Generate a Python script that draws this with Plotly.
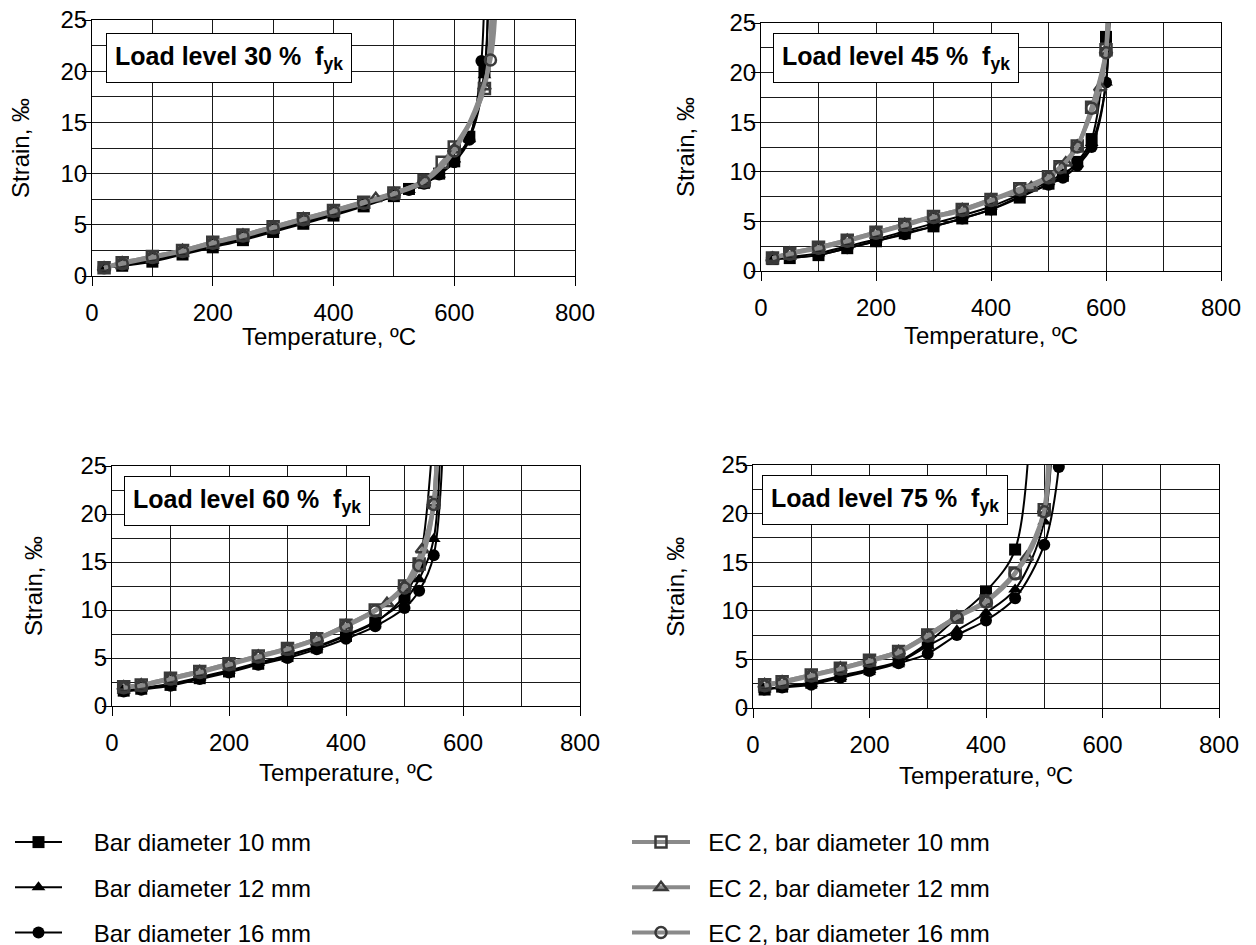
import plotly.graph_objects as go

# ---------------- data ----------------
# Load level 30 %
T30_d10 = [20, 50, 100, 150, 200, 250, 300, 350, 400, 450, 500, 525, 550, 575, 600, 625, 650, 656]
S30_d10 = [0.8, 1.0, 1.4, 2.1, 2.8, 3.5, 4.3, 5.1, 5.9, 6.8, 7.8, 8.5, 9.1, 10.0, 11.2, 13.6, 20.0, 40.0]
T30_d12 = [20, 50, 100, 150, 200, 250, 300, 350, 400, 450, 500, 525, 550, 575, 600, 625, 650, 656]
S30_d12 = [0.8, 1.0, 1.5, 2.2, 2.9, 3.6, 4.4, 5.2, 6.0, 6.9, 7.9, 8.4, 9.1, 9.9, 11.4, 13.4, 19.6, 40.0]
T30_d16 = [20, 50, 100, 150, 200, 250, 300, 350, 400, 450, 500, 525, 550, 575, 600, 625, 645, 652]
S30_d16 = [0.8, 1.1, 1.6, 2.3, 3.0, 3.7, 4.5, 5.3, 6.1, 7.0, 8.0, 8.4, 9.0, 9.9, 11.1, 13.3, 21.0, 40.0]
T30_ec10 = [20, 50, 100, 150, 200, 250, 300, 350, 400, 450, 500, 550, 580, 600, 650, 662]
S30_ec10 = [0.8, 1.3, 1.9, 2.5, 3.3, 4.0, 4.8, 5.6, 6.4, 7.2, 8.1, 9.3, 11.1, 12.6, 18.3, 40.0]
T30_ec12 = [20, 50, 100, 150, 200, 250, 300, 350, 400, 470, 500, 550, 600, 650, 662]
S30_ec12 = [0.8, 1.3, 1.9, 2.5, 3.3, 4.0, 4.8, 5.6, 6.4, 7.6, 8.1, 9.3, 12.4, 18.5, 40.0]
T30_ec16 = [20, 50, 100, 150, 200, 250, 300, 350, 400, 450, 500, 550, 600, 660, 666]
S30_ec16 = [0.8, 1.2, 1.8, 2.4, 3.2, 3.9, 4.7, 5.5, 6.3, 7.1, 8.0, 9.2, 12.2, 21.1, 40.0]

# Load level 45 %
T45_exp = [20, 50, 100, 150, 200, 250, 300, 350, 400, 450, 500, 525, 550, 575, 600, 607]
S45_d10 = [1.2, 1.3, 1.6, 2.3, 3.0, 3.8, 4.5, 5.3, 6.2, 7.4, 8.8, 9.6, 11.0, 13.3, 23.6, 40.0]
S45_d12 = [1.2, 1.4, 1.8, 2.5, 3.2, 4.0, 4.8, 5.6, 6.5, 7.7, 9.0, 9.8, 10.8, 12.9, 19.0, 40.0]
S45_d16 = [1.2, 1.3, 1.6, 2.3, 3.0, 3.7, 4.5, 5.3, 6.2, 7.5, 8.7, 9.4, 10.6, 12.5, 19.0, 40.0]
T45_ec = [20, 50, 100, 150, 200, 250, 300, 350, 400, 450, 500, 520, 550, 575, 600, 604]
S45_ec10 = [1.3, 1.8, 2.4, 3.1, 3.9, 4.7, 5.5, 6.2, 7.2, 8.3, 9.5, 10.5, 12.6, 16.5, 22.3, 40.0]
T45_ec12 = [20, 50, 100, 150, 200, 250, 300, 350, 400, 470, 500, 530, 550, 590, 600, 604]
S45_ec12 = [1.3, 1.8, 2.4, 3.1, 3.9, 4.7, 5.5, 6.2, 7.2, 8.4, 9.5, 10.9, 12.6, 18.5, 22.2, 40.0]
S45_ec16 = [1.3, 1.7, 2.3, 3.0, 3.8, 4.6, 5.4, 6.1, 7.1, 8.2, 9.4, 10.4, 12.5, 16.4, 22.0, 40.0]

# Load level 60 %
T60_d10 = [20, 50, 100, 150, 200, 250, 300, 350, 400, 450, 500, 525, 560]
S60_d10 = [1.6, 1.8, 2.2, 2.9, 3.6, 4.4, 5.2, 6.1, 7.3, 8.7, 11.5, 14.8, 40.0]
T60_d12 = [20, 50, 100, 150, 200, 250, 300, 350, 400, 450, 500, 525, 550, 564]
S60_d12 = [1.6, 1.9, 2.3, 3.0, 3.7, 4.5, 5.3, 6.2, 7.4, 8.8, 11.0, 13.2, 17.4, 40.0]
T60_d16 = [20, 50, 100, 150, 200, 250, 300, 350, 400, 450, 500, 525, 550, 572]
S60_d16 = [1.5, 1.7, 2.1, 2.8, 3.5, 4.3, 5.0, 5.9, 7.0, 8.3, 10.2, 12.0, 15.7, 40.0]
T60_ec = [20, 50, 100, 150, 200, 250, 300, 350, 400, 450, 500, 525, 550, 556]
S60_ec10 = [2.0, 2.2, 2.9, 3.6, 4.4, 5.2, 6.0, 7.0, 8.4, 10.0, 12.5, 14.8, 21.2, 40.0]
T60_ec12 = [20, 50, 100, 150, 200, 250, 300, 350, 400, 470, 500, 530, 550, 556]
S60_ec12 = [2.0, 2.2, 2.9, 3.6, 4.4, 5.2, 6.0, 7.0, 8.4, 10.7, 12.5, 16.3, 21.2, 40.0]
S60_ec16 = [1.9, 2.1, 2.8, 3.5, 4.3, 5.1, 5.9, 6.9, 8.3, 9.9, 12.3, 14.6, 21.0, 40.0]

# Load level 75 %
T75_d10 = [20, 50, 100, 150, 200, 250, 300, 350, 400, 450, 482]
S75_d10 = [1.9, 2.2, 2.6, 3.3, 4.0, 4.8, 6.7, 9.3, 12.0, 16.3, 40.0]
T75_d12 = [20, 50, 100, 150, 200, 250, 300, 350, 400, 450, 500, 516]
S75_d12 = [1.9, 2.2, 2.5, 3.2, 3.9, 4.7, 6.4, 8.0, 9.8, 12.2, 19.2, 40.0]
T75_d16 = [20, 50, 100, 150, 200, 250, 300, 350, 400, 450, 500, 525, 535]
S75_d16 = [1.9, 2.1, 2.4, 3.1, 3.8, 4.6, 5.6, 7.5, 9.0, 11.3, 16.8, 24.8, 40.0]
T75_ec = [20, 50, 100, 150, 200, 250, 300, 350, 400, 450, 500, 504]
S75_ec10 = [2.4, 2.7, 3.4, 4.1, 4.9, 5.8, 7.5, 9.4, 11.0, 13.9, 20.4, 40.0]
T75_ec12 = [20, 50, 100, 150, 200, 250, 300, 350, 400, 470, 500, 504]
S75_ec12 = [2.4, 2.7, 3.4, 4.1, 4.9, 5.8, 7.5, 9.4, 11.0, 15.5, 20.4, 40.0]
S75_ec16 = [2.3, 2.6, 3.3, 4.0, 4.8, 5.7, 7.4, 9.3, 10.9, 13.8, 20.2, 40.0]

panel_titles = ["30", "45", "60", "75"]
series_names = ["Bar diameter 10 mm", "Bar diameter 12 mm", "Bar diameter 16 mm",
                "EC 2, bar diameter 10 mm", "EC 2, bar diameter 12 mm", "EC 2, bar diameter 16 mm"]
x_title = "Temperature, ºC"
y_title = "Strain, ‰"
x_ticks = [0, 200, 400, 600, 800]
y_ticks = [0, 5, 10, 15, 20, 25]

panels = [
    [(T30_d10, S30_d10), (T30_d12, S30_d12), (T30_d16, S30_d16),
     (T30_ec10, S30_ec10), (T30_ec12, S30_ec12), (T30_ec16, S30_ec16)],
    [(T45_exp, S45_d10), (T45_exp, S45_d12), (T45_exp, S45_d16),
     (T45_ec, S45_ec10), (T45_ec12, S45_ec12), (T45_ec, S45_ec16)],
    [(T60_d10, S60_d10), (T60_d12, S60_d12), (T60_d16, S60_d16),
     (T60_ec, S60_ec10), (T60_ec12, S60_ec12), (T60_ec, S60_ec16)],
    [(T75_d10, S75_d10), (T75_d12, S75_d12), (T75_d16, S75_d16),
     (T75_ec, S75_ec10), (T75_ec12, S75_ec12), (T75_ec, S75_ec16)],
]

# ---------------- styling ----------------
W, H = 1256, 945
FONT = "Liberation Sans, Arial, sans-serif"
symbols = ["square", "triangle-up", "circle", "square-open", "triangle-up-open", "circle-open"]
# pixel boxes of the four plot areas: (left, right, top, bottom)
boxes = [(92, 575, 20, 276), (761, 1221, 23, 271), (112, 580, 466, 706), (753, 1219, 465, 708)]
note_pos = [(0.029, 0.95), (0.026, 0.96), (0.026, 0.96), (0.019, 0.959)]
ytitle_pos = [(-0.149, 0.5), (-0.165, 0.5), (-0.169, 0.5), (-0.167, 0.5)]
xtitle_pos = [(0.49, -0.236), (0.5, -0.262), (0.5, -0.275), (0.5, -0.276)]

fig = go.Figure()

for p, series in enumerate(panels):
    xa = "x" if p == 0 else f"x{p+1}"
    ya = "y" if p == 0 else f"y{p+1}"
    for k, (tx, sy) in enumerate(series):
        is_ec = k >= 3
        fig.add_trace(go.Scatter(
            x=tx, y=sy, xaxis=xa, yaxis=ya,
            mode="lines+markers",
            name=("\u00a0" * 4 + series_names[k]) if not is_ec else ("\u00a0" * 2 + series_names[k]),
            line=dict(color="#8a8a8a" if is_ec else "black", width=4 if is_ec else 2,
                      shape="spline", smoothing=0.9),
            marker=dict(symbol=symbols[k], size=11 if is_ec else 12,
                        color="#3a3a3a" if is_ec else "black",
                        line=dict(width=2.5 if is_ec else 0, color="#3a3a3a")),
            showlegend=(p == 0),
            legend="legend2" if is_ec else "legend",
            legendgroup=f"g{k}",
            cliponaxis=True,
        ))

layout = dict(
    width=W, height=H, margin=dict(l=0, r=0, t=0, b=0, pad=0, autoexpand=False),
    paper_bgcolor="white", plot_bgcolor="white",
    font=dict(family=FONT, size=24, color="black"),
    legend=dict(xref="container", yref="container", x=10 / W, y=1 - 820 / H,
                xanchor="left", yanchor="top", itemwidth=47, tracegroupgap=11,
                font=dict(family=FONT, size=24), bgcolor="rgba(0,0,0,0)"),
    legend2=dict(xref="container", yref="container", x=627 / W, y=1 - 820 / H,
                 xanchor="left", yanchor="top", itemwidth=58, tracegroupgap=11,
                 font=dict(family=FONT, size=24), bgcolor="rgba(0,0,0,0)"),
)

annotations = []
for p, (l, r, t, b) in enumerate(boxes):
    xk = "xaxis" if p == 0 else f"xaxis{p+1}"
    yk = "yaxis" if p == 0 else f"yaxis{p+1}"
    xa = "x" if p == 0 else f"x{p+1}"
    ya = "y" if p == 0 else f"y{p+1}"
    layout[xk] = dict(
        domain=[l / W, r / W], anchor=ya, range=[0, 800], automargin=False,
        tickmode="array", tickvals=x_ticks, ticks="outside", ticklen=9, tickcolor="black",
        showline=True, linecolor="black", linewidth=1, mirror=True,
        showgrid=True, gridcolor="#1a1a1a", gridwidth=1, zeroline=False,
        minor=dict(tickmode="linear", tick0=0, dtick=100, showgrid=True, gridcolor="#1a1a1a", gridwidth=1),
        ticklabelstandoff=6,
        tickfont=dict(family=FONT, size=24),
    )
    layout[yk] = dict(
        domain=[1 - b / H, 1 - t / H], anchor=xa, range=[0, 25], automargin=False,
        tickmode="array", tickvals=y_ticks, ticks="outside", ticklen=9, tickcolor="black",
        showline=True, linecolor="black", linewidth=1, mirror=True,
        showgrid=True, gridcolor="#1a1a1a", gridwidth=1, zeroline=False,
        minor=dict(tickmode="linear", tick0=0, dtick=2.5, showgrid=True, gridcolor="#1a1a1a", gridwidth=1),
        ticklabelstandoff=-10,
        tickfont=dict(family=FONT, size=24),
    )
    nx, ny = note_pos[p]
    annotations.append(dict(
        xref=f"{xa} domain", yref=f"{ya} domain", x=nx, y=ny, xanchor="left", yanchor="top",
        text=f"<b>Load level {panel_titles[p]} %\u00a0\u00a0f<sub>yk</sub></b>",
        showarrow=False, align="left",
        font=dict(family=FONT, size=25, color="black"),
        bgcolor="white", bordercolor="black", borderwidth=1, borderpad=8,
    ))
    tx_, ty_ = ytitle_pos[p]
    annotations.append(dict(
        xref=f"{xa} domain", yref=f"{ya} domain", x=tx_, y=ty_, xanchor="center", yanchor="middle",
        text=y_title, textangle=-90, showarrow=False,
        font=dict(family=FONT, size=24, color="black"),
    ))
    qx, qy = xtitle_pos[p]
    annotations.append(dict(
        xref=f"{xa} domain", yref=f"{ya} domain", x=qx, y=qy, xanchor="center", yanchor="middle",
        text=x_title, showarrow=False,
        font=dict(family=FONT, size=24, color="black"),
    ))
layout["annotations"] = annotations

fig.update_layout(**layout)
fig.write_html("out.html")
